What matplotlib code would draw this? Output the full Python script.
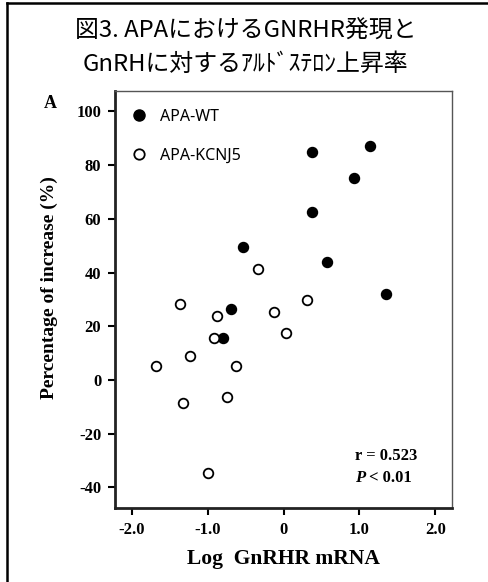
import matplotlib
matplotlib.use("Agg")
import matplotlib.pyplot as plt
from matplotlib.lines import Line2D

plt.rcParams["axes.unicode_minus"] = False

# data
wt_x = [-0.80, -0.69, -0.54, 0.37, 0.37, 0.57, 0.93, 1.14, 1.35]
wt_y = [15.8, 26.3, 49.6, 84.9, 62.5, 44.0, 75.3, 87.0, 31.9]
kc_x = [-1.68, -1.36, -1.32, -1.23, -0.99, -0.92, -0.87, -0.74, -0.63, -0.33, -0.13, 0.03, 0.31]
kc_y = [5.3, 28.3, -8.7, 8.9, -34.7, 15.5, 23.9, -6.2, 5.3, 41.3, 25.2, 17.4, 29.8]

xticks = [-2.0, -1.0, 0, 1.0, 2.0]
xticklabels = ["-2.0", "-1.0", "0", "1.0", "2.0"]
yticks = [-40, -20, 0, 20, 40, 60, 80, 100]

title = "図3. APAにおけるGNRHR発現と\nGnRHに対するｱﾙﾄﾞｽﾃﾛﾝ上昇率"
serif = "Liberation Serif"
jp = ["Noto Sans CJK JP", "DejaVu Sans"]

fig = plt.figure(figsize=(4.88, 5.82), dpi=100)
ax = fig.add_axes([0.2357, 0.1271, 0.9262 - 0.2357, 0.8436 - 0.1271])

ax.scatter(wt_x, wt_y, s=52, color="black", zorder=3)
ax.scatter(kc_x, kc_y, s=48, facecolor="white", edgecolor="black", linewidth=1.3, zorder=3)

ax.set_xlim(-2.22, 2.22)
ax.set_ylim(-47.7, 107.6)
ax.set_xticks(xticks)
ax.set_xticklabels(xticklabels)
ax.set_yticks(yticks)
for lab in ax.get_xticklabels() + ax.get_yticklabels():
    lab.set_fontfamily(serif)
    lab.set_fontweight("bold")
    lab.set_fontsize(12)
ax.tick_params(direction="out", length=5, width=1.5, pad=5)

for s in ["left", "bottom"]:
    ax.spines[s].set_linewidth(2)
    ax.spines[s].set_color("#222222")
for s in ["top", "right"]:
    ax.spines[s].set_linewidth(1)
    ax.spines[s].set_color("#555555")

ax.set_xlabel("Log  GnRHR mRNA", fontfamily=serif, fontweight="bold", fontsize=15.5, labelpad=8)
ax.set_ylabel("Percentage of increase (%)", fontfamily=serif, fontweight="bold", fontsize=14)
ax.yaxis.set_label_coords(-0.17, 0.528)

handles = [
    Line2D([], [], marker="o", ls="", ms=8, color="black"),
    Line2D([], [], marker="o", ls="", ms=7.5, mfc="white", mec="black", mew=1.3),
]
ax.legend(handles, ["APA-WT", "APA-KCNJ5"], loc="upper left", bbox_to_anchor=(-0.012, 0.986),
          frameon=False, prop={"family": "Noto Sans", "size": 11.5},
          labelspacing=1.45, handletextpad=0.3, borderaxespad=0.35)

ax.text(0.712, 0.125, "r = 0.523", transform=ax.transAxes, fontfamily=serif,
        fontweight="bold", fontsize=12, va="center")
ax.text(0.712, 0.072, "P", transform=ax.transAxes, fontfamily=serif,
        fontweight="bold", fontstyle="italic", fontsize=12, va="center")
ax.annotate("< 0.01", xy=(0.712, 0.072), xycoords="axes fraction", xytext=(10, 0),
            textcoords="offset points", fontfamily=serif, fontweight="bold",
            fontsize=12, va="center")

fig.text(0.503, 1 - 48 / 582, title, ha="center", va="center", fontfamily=jp,
         fontsize=17.2, linespacing=1.55)
fig.text(50 / 488, 1 - 103 / 582, "A", ha="center", va="center", fontfamily=serif,
         fontweight="bold", fontsize=13)

# outer frame (left and top edges)
fig.add_artist(Line2D([7 / 488, 7 / 488], [0, 1 - 3 / 582], color="black", lw=1.8,
                      transform=fig.transFigure))
fig.add_artist(Line2D([7 / 488, 1], [1 - 3 / 582, 1 - 3 / 582], color="black", lw=1.8,
                      transform=fig.transFigure))

plt.savefig("out.png", dpi=100)
